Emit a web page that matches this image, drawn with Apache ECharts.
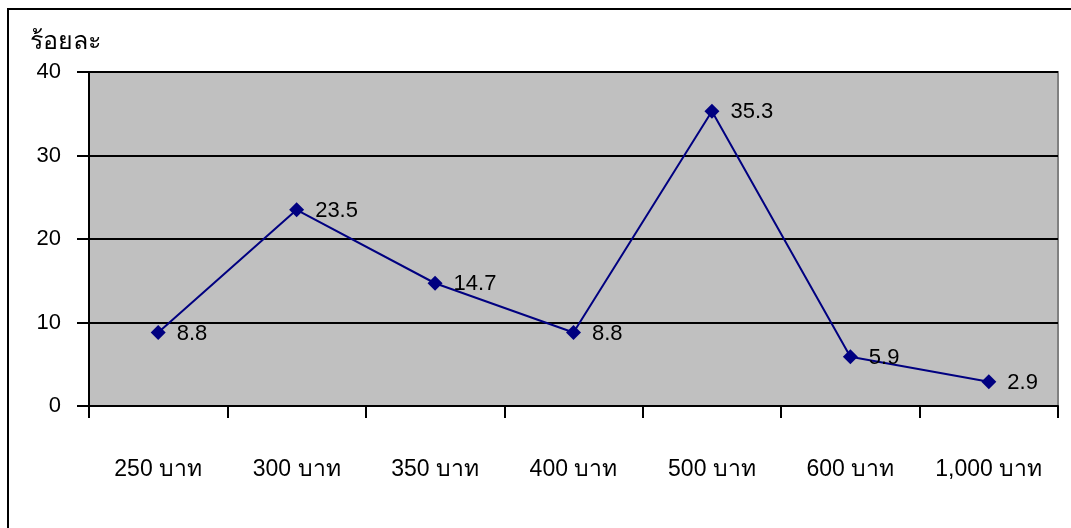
<!DOCTYPE html>
<html>
<head>
<meta charset="utf-8">
<script src="https://cdn.jsdelivr.net/npm/echarts@6/dist/echarts.min.js"></script>
<style>
html,body{margin:0;padding:0;background:#fff;}
#c{width:1071px;height:528px;}
</style>
</head>
<body>
<div id="c"></div>
<script>
var categories = ['250 บาท', '300 บาท', '350 บาท', '400 บาท', '500 บาท', '600 บาท', '1,000 บาท'];
var percentValues = [8.8, 23.5, 14.7, 8.8, 35.3, 5.9, 2.9];
var yAxisTitle = 'ร้อยละ';

var FONT = 'Arial, "Liberation Sans", "DejaVu Sans", sans-serif';
var chart = echarts.init(document.getElementById('c'), null, {renderer: 'canvas'});
chart.setOption({
  animation: false,
  backgroundColor: '#ffffff',
  graphic: [
    {type: 'rect', shape: {x: 8, y: 9, width: 1200, height: 700}, style: {fill: 'none', stroke: '#000', lineWidth: 2}, z: -10}
  ],
  grid: {left: 89, right: 13, top: 72, bottom: 122, show: true, backgroundColor: '#c0c0c0', borderColor: '#808080', borderWidth: 2},
  xAxis: {
    type: 'category',
    data: categories,
    boundaryGap: true,
    axisLine: {show: true, lineStyle: {color: '#000', width: 2}},
    axisTick: {show: true, interval: 0, length: 12, lineStyle: {color: '#000', width: 2}},
    axisLabel: {interval: 0, hideOverlap: false, color: '#000', fontSize: 23, fontFamily: FONT, margin: 52}
  },
  yAxis: {
    type: 'value',
    min: 0, max: 40, interval: 10,
    name: yAxisTitle,
    nameLocation: 'end',
    nameGap: 17,
    nameTextStyle: {color: '#000', fontSize: 25, fontFamily: FONT, align: 'center', padding: [0, 48, 0, 0]},
    axisLine: {show: true, lineStyle: {color: '#000', width: 2}},
    axisTick: {show: true, length: 12, lineStyle: {color: '#000', width: 2}},
    axisLabel: {color: '#000', fontSize: 22, fontFamily: FONT, margin: 28},
    splitLine: {show: true, lineStyle: {color: '#000', width: 2}}
  },
  series: [{
    type: 'line',
    data: percentValues,
    symbol: 'diamond',
    symbolSize: 15,
    itemStyle: {color: '#000080'},
    lineStyle: {color: '#000080', width: 2},
    label: {show: true, position: 'right', distance: 11, offset: [0, 1], color: '#000', fontSize: 22, fontFamily: FONT}
  }]
});
</script>
</body>
</html>
